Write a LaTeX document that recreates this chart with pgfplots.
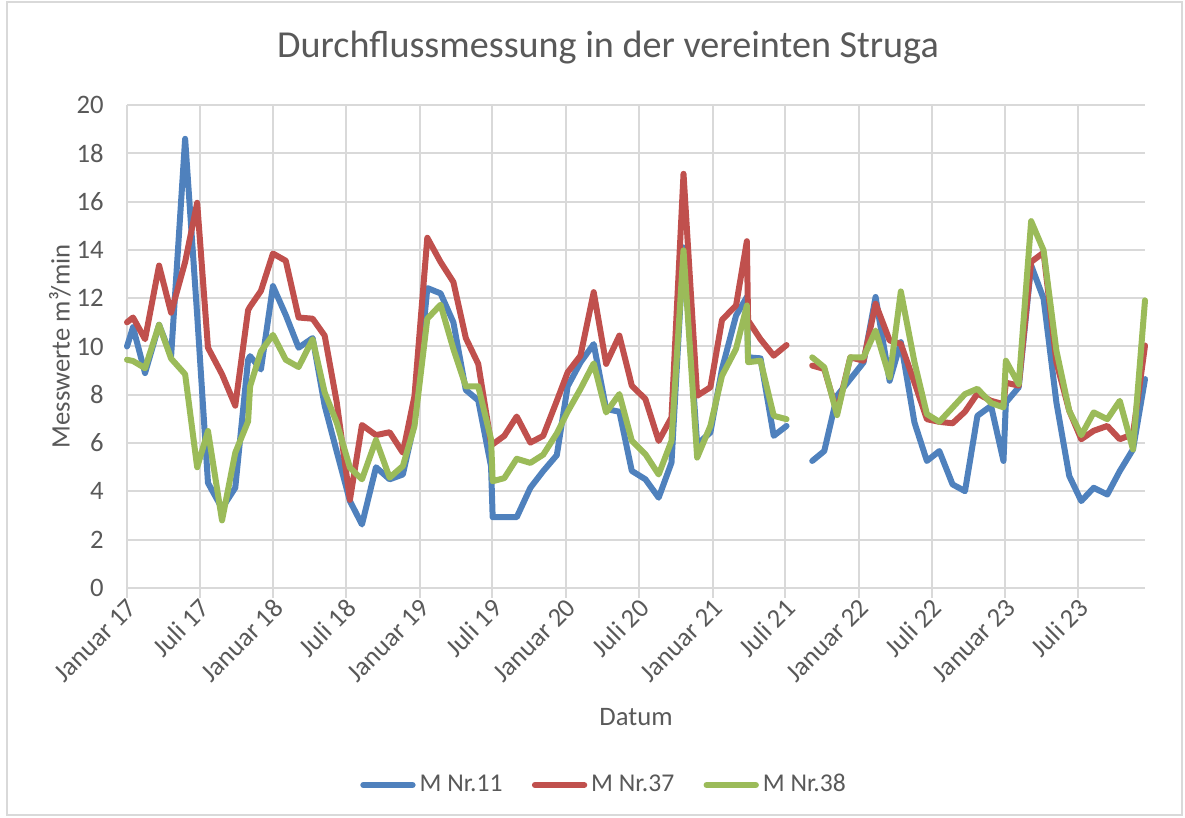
\documentclass[border=0pt]{standalone}
\usepackage{fontspec}
\setmainfont{Carlito}
\usepackage{pgfplots}
\usepackage{pgfplotstable}
\pgfplotsset{compat=1.18}
\definecolor{txtgray}{HTML}{595959}
\definecolor{gridgray}{HTML}{D9D9D9}
\definecolor{xlblue}{HTML}{4F81BD}
\definecolor{xlred}{HTML}{C0504D}
\definecolor{xlgreen}{HTML}{9BBB59}

% d = days since 1 January 2017; b = M Nr.11, r = M Nr.37, g = M Nr.38
\pgfplotstableread{
d b r g
0 10.0 11.0 9.45
15 10.8 11.2 9.4
45 8.9 10.3 9.1
80 10.9 13.35 10.9
110 9.6 11.4 9.5
145 18.6 13.5 8.85
175 11.3 15.95 5.0
202 4.35 9.95 6.5
237 3.3 8.85 2.8
270 4.15 7.55 5.6
302 9.45 11.5 6.9
307 9.6 11.65 8.35
334 9.05 12.3 9.8
364 12.5 13.85 10.48
396 11.3 13.55 9.45
428 9.95 11.2 9.15
463 10.35 11.15 10.3
493 7.55 10.45 8.1
523 5.65 7.7 6.85
556 3.6 3.65 4.98
586 2.63 6.75 4.5
621 5.0 6.33 6.13
655 4.5 6.45 4.57
688 4.7 5.6 5.05
717 6.85 7.95 6.7
749 12.42 14.5 11.15
782 12.2 13.5 11.73
814 11.0 12.67 9.9
845 8.2 10.35 8.35
876 7.77 9.28 8.35
908 5.03 6.0 6.15
912 2.93 5.95 4.42
941 2.93 6.3 4.55
972 2.93 7.1 5.35
1006 4.15 6.02 5.18
1038 4.84 6.3 5.52
1072 5.5 7.75 6.4
1099 8.35 8.93 7.3
1131 9.34 9.62 8.24
1164 10.1 12.25 9.3
1195 7.41 9.28 7.27
1228 7.3 10.45 8.03
1259 4.85 8.38 6.1
1293 4.5 7.82 5.54
1326 3.74 6.09 4.7
1358 5.19 7.06 6.09
1388 14.1 17.15 13.98
1422 5.95 7.96 5.4
1455 6.44 8.31 6.71
1484 9.07 11.1 8.79
1519 11.28 11.7 9.9
1546 12.05 14.36 11.7
1549 9.55 11.08 9.35
1580 9.51 10.3 9.41
1613 6.3 9.62 7.13
1645 6.71 10.06 6.99
1677 nan nan nan
1709 5.26 9.21 9.55
1739 5.67 9.07 9.14
1771 7.96 7.27 7.16
1804 8.65 9.55 9.55
1837 9.34 9.41 9.55
1867 12.05 11.77 10.66
1902 8.58 10.25 8.72
1930 10.18 10.11 12.28
1964 6.85 8.51 9.35
1995 5.26 6.99 7.2
2026 5.67 6.88 6.88
2059 4.29 6.82 7.47
2090 4.01 7.3 8.03
2121 7.13 8.05 8.25
2155 7.54 7.75 7.66
2186 5.26 7.61 7.48
2192 7.68 8.5 9.41
2224 8.31 8.38 8.44
2255 13.36 13.5 15.19
2286 11.98 13.89 13.98
2318 7.68 9.35 9.83
2350 4.64 7.34 7.34
2380 3.6 6.16 6.33
2411 4.15 6.51 7.27
2445 3.87 6.71 6.99
2476 4.84 6.16 7.75
2509 5.74 6.37 5.74
2539 8.65 10.04 11.91
}\data

\begin{document}
\begin{tikzpicture}
\path[use as bounding box] (0,0) rectangle (444.375pt,306.75pt);
\draw[gridgray, line width=0.75pt] (2.625pt,1.125pt) rectangle (443.25pt,306pt);
\begin{axis}[
  at={(47.625pt,86.25pt)}, anchor=south west,
  scale only axis, width=381.75pt, height=181.125pt,
  xmin=0, xmax=2539, ymin=0, ymax=20,
  clip=false,
  unbounded coords=jump,
  xtick={0,181,365,546,730,911,1095,1277,1461,1642,1826,2007,2191,2372},
  xticklabels={Januar 17,Juli 17,Januar 18,Juli 18,Januar 19,Juli 19,Januar 20,Juli 20,Januar 21,Juli 21,Januar 22,Juli 22,Januar 23,Juli 23},
  ytick={0,2,...,20},
  /pgf/number format/assume math mode=true,
  grid=major,
  major grid style={draw=gridgray, line width=0.75pt},
  axis x line*=bottom, axis y line*=left,
  x axis line style={draw=gridgray, line width=0.75pt},
  y axis line style={draw=none},
  tick align=outside,
  major tick length=3.6pt,
  xtick style={draw=gridgray, line width=0.75pt},
  ytick style={draw=none},
  tick label style={font=\fontsize{10}{12}\selectfont, text=txtgray},
  xticklabel style={rotate=45, anchor=east, inner sep=1pt, xshift=1pt, yshift=-3pt},
  yticklabel style={anchor=east, xshift=-1.6pt},
  every axis title shift=0pt,
  title={Durchflussmessung in der vereinten Struga},
  title style={at={(axis description cs:0.4725,1.118)}, anchor=center, font=\fontsize{14.3}{17}\selectfont, text=txtgray},
  xlabel={Datum},
  xlabel style={at={(axis description cs:0.5,-0.267)}, anchor=center, font=\fontsize{10}{12}\selectfont, text=txtgray},
  ylabel={Messwerte m³/min},
  ylabel style={at={(axis description cs:-0.066,0.5)}, anchor=center, rotate=0, font=\fontsize{10}{12}\selectfont, text=txtgray},
  legend columns=3,
  legend style={at={(axis description cs:0.4696,-0.4079)}, anchor=center, draw=none, fill=none,
    font=\fontsize{9.6}{12}\selectfont, text=txtgray,
    nodes={inner sep=1.5pt},
    /tikz/every even column/.append style={column sep=9.5pt}},
  legend image code/.code={\draw[#1, line width=2.25pt, line cap=round] (0pt,0pt) -- (18.5pt,0pt);},
]
\addplot[xlblue, line width=2.25pt, line join=round, line cap=round] table[x=d, y=b] {\data};
\addlegendentry{M Nr.11}
\addplot[xlred, line width=2.25pt, line join=round, line cap=round] table[x=d, y=r] {\data};
\addlegendentry{M Nr.37}
\addplot[xlgreen, line width=2.25pt, line join=round, line cap=round] table[x=d, y=g] {\data};
\addlegendentry{M Nr.38}
\end{axis}
\end{tikzpicture}
\end{document}
